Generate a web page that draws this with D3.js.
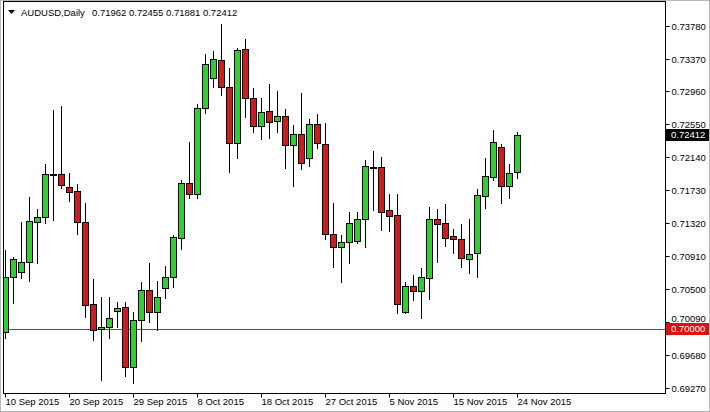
<!DOCTYPE html>
<html><head><meta charset="utf-8">
<script src="https://cdn.jsdelivr.net/npm/d3@7"></script>
<style>html,body{margin:0;padding:0;background:#fff;}svg{display:block;}</style>
</head><body><svg id="c" width="710" height="412"></svg>
<script>
const dates = ["2015-09-10","2015-09-11","2015-09-13","2015-09-14","2015-09-15","2015-09-16","2015-09-17","2015-09-18","2015-09-20","2015-09-21","2015-09-22","2015-09-23","2015-09-24","2015-09-25","2015-09-27","2015-09-28","2015-09-29","2015-09-30",
"2015-10-01","2015-10-02","2015-10-04","2015-10-05","2015-10-06","2015-10-07","2015-10-08","2015-10-09","2015-10-11","2015-10-12","2015-10-13","2015-10-14","2015-10-15","2015-10-16","2015-10-18","2015-10-19","2015-10-20","2015-10-21","2015-10-22","2015-10-23","2015-10-25","2015-10-26","2015-10-27","2015-10-28","2015-10-29","2015-10-30",
"2015-11-01","2015-11-02","2015-11-03","2015-11-04","2015-11-05","2015-11-06","2015-11-08","2015-11-09","2015-11-10","2015-11-11","2015-11-12","2015-11-13","2015-11-15","2015-11-16","2015-11-17","2015-11-18","2015-11-19","2015-11-20","2015-11-22","2015-11-23","2015-11-24"];
const open  = [0.69963,0.70648,0.70711,0.70835,0.71334,0.71396,0.71926,0.71932,0.71770,0.71720,0.71334,0.70312,0.70000,0.70025,0.70225,0.70274,0.69527,0.70112,0.70486,0.70212,0.70511,0.70648,0.71134,0.71820,0.71683,0.72754,0.73128,0.73353,0.73016,0.72318,0.73490,0.72879,0.72530,0.72717,0.72592,0.72655,0.72293,0.72430,0.72131,0.72555,0.72306,0.71184,0.71022,0.71084,0.71097,0.71371,0.72019,0.72019,0.71483,0.71421,0.70212,0.70536,0.70474,0.70636,0.71371,0.71321,0.71159,0.71122,0.70873,0.70947,0.71658,0.71894,0.72268,0.71782,0.71962];
const high  = [0.70985,0.70898,0.71334,0.71645,0.71496,0.72057,0.72729,0.72779,0.71944,0.71807,0.71570,0.70623,0.70399,0.70399,0.70337,0.70337,0.70212,0.70586,0.70823,0.70598,0.70785,0.71172,0.71857,0.72331,0.72804,0.73427,0.73465,0.73801,0.73253,0.73502,0.73614,0.73004,0.72879,0.73053,0.72966,0.72742,0.72543,0.72941,0.72617,0.72680,0.72567,0.71570,0.71172,0.71458,0.71458,0.72106,0.72218,0.72144,0.71683,0.71683,0.70586,0.70673,0.70760,0.71521,0.71496,0.71558,0.71246,0.71309,0.71371,0.71745,0.72131,0.72480,0.72306,0.72057,0.72455];
const low   = [0.69888,0.70324,0.70636,0.70598,0.70823,0.71321,0.71359,0.71757,0.71595,0.71184,0.70150,0.69863,0.69365,0.69888,0.70025,0.69415,0.69327,0.69851,0.70087,0.69988,0.70387,0.70524,0.70997,0.71633,0.71633,0.72692,0.73016,0.72916,0.71957,0.72131,0.72642,0.72455,0.72368,0.72380,0.72455,0.72007,0.71782,0.71994,0.72032,0.72256,0.71122,0.70773,0.70586,0.70823,0.71072,0.71022,0.71483,0.71234,0.71222,0.70200,0.70200,0.70362,0.70137,0.70374,0.70835,0.71035,0.70947,0.70773,0.70698,0.70648,0.71508,0.71857,0.71570,0.71633,0.71881];
const close = [0.70648,0.70873,0.70835,0.71346,0.71396,0.71932,0.71926,0.71795,0.71708,0.71334,0.70299,0.69988,0.70025,0.70137,0.70262,0.69527,0.70112,0.70486,0.70212,0.70399,0.70648,0.71147,0.71820,0.71683,0.72754,0.73303,0.73365,0.73016,0.72318,0.73477,0.72879,0.72530,0.72705,0.72580,0.72655,0.72293,0.72430,0.72069,0.72555,0.72318,0.71184,0.71022,0.71084,0.71321,0.71371,0.72032,0.72019,0.71458,0.71409,0.70312,0.70536,0.70474,0.70648,0.71371,0.71309,0.71134,0.71122,0.70885,0.70935,0.71670,0.71907,0.72331,0.71782,0.71944,0.72412];
const yTicks = [0.73780,0.73370,0.72960,0.72550,0.72140,0.71730,0.71320,0.70910,0.70500,0.70090,0.69680,0.69270];
const xTickDates = ["2015-09-10","2015-09-20","2015-09-29","2015-10-08","2015-10-18","2015-10-27","2015-11-05","2015-11-15","2015-11-24"];
const xTickLabels = ["10 Sep 2015","20 Sep 2015","29 Sep 2015","8 Oct 2015","18 Oct 2015","27 Oct 2015","5 Nov 2015","15 Nov 2015","24 Nov 2015"];
const symbol = "AUDUSD,Daily";
const lastBar = [0.71962,0.72455,0.71881,0.72412];
const lastPrice = 0.72412;
const levelPrice = 0.70000;

const FONT = "'Liberation Sans', Arial, sans-serif";
const svg = d3.select("#c");
const L = 3, R = 665, T = 1, B = 393;
const x = d3.scaleLinear().domain([0, dates.length - 1]).range([5, 517]);
const y = d3.scaleLinear().domain([0.69270, 0.73780]).range([387.6, 25.7]);

svg.append("rect").attr("width",710).attr("height",412).attr("fill","#fff");
svg.append("rect").attr("x",0.5).attr("y",0.5).attr("width",709).attr("height",411)
  .attr("fill","none").attr("stroke","#b8b8b8");

svg.append("defs").append("clipPath").attr("id","pc").append("rect")
  .attr("x",L+1).attr("y",T+1).attr("width",R-L-1).attr("height",B-T-1);

const plot = svg.append("g").attr("clip-path","url(#pc)");

// level line
const yl = Math.round(y(levelPrice)) + 0.5;
plot.append("line").attr("x1",L).attr("x2",R).attr("y1",yl).attr("y2",yl)
  .attr("stroke","#c81e1e").attr("stroke-width",1);

const data = dates.map((d,i)=>({i, o:open[i], h:high[i], l:low[i], c:close[i]}));
const g = plot.selectAll("g.cd").data(data).join("g").attr("class","cd");
g.append("rect")
  .attr("x", d => Math.round(x(d.i)))
  .attr("y", d => Math.round(y(d.h)))
  .attr("width",1)
  .attr("height", d => Math.round(y(d.l)) - Math.round(y(d.h)) + 1)
  .attr("fill","#000");
g.each(function(d){
  const cx = Math.round(x(d.i));
  const top = Math.round(y(Math.max(d.o,d.c)));
  const bot = Math.round(y(Math.min(d.o,d.c)));
  const s = d3.select(this);
  if (bot - top < 1) {
    s.append("rect").attr("x",cx-3).attr("y",top).attr("width",7).attr("height",2).attr("fill","#000");
  } else {
    s.append("rect").attr("x",cx-3+0.5).attr("y",top+0.5).attr("width",6).attr("height",bot-top)
      .attr("fill", d.c >= d.o ? "#32cd32" : "#c81e1e").attr("stroke","#000").attr("stroke-width",1);
  }
});

// frame
svg.append("rect").attr("x",L+0.5).attr("y",T+0.5).attr("width",R-L).attr("height",B-T)
  .attr("fill","none").attr("stroke","#000");

// right axis
const ya = svg.append("g").attr("transform",`translate(${R+0.5},0)`)
  .call(d3.axisRight(y).tickValues(yTicks).tickSize(4).tickFormat(d3.format(".5f")));
ya.select(".domain").remove();
ya.selectAll(".tick").attr("transform", d => `translate(0,${Math.round(y(d))+0.5})`);
ya.selectAll(".tick text").attr("x",6).attr("font-family",FONT).attr("font-size",9.5).attr("fill","#000");
// the label that sits just above the red level box is nudged up so both stay readable
ya.selectAll(".tick text").filter(d => Math.abs(y(d) - y(levelPrice)) < 12)
  .attr("dy", "-0.1em");

// bottom axis
const idx = xTickDates.map(d => dates.indexOf(d));
const xa = svg.append("g").attr("transform",`translate(0,${B+0.5})`)
  .call(d3.axisBottom(x).tickValues(idx).tickSize(4).tickFormat((d,k) => xTickLabels[k]));
xa.select(".domain").remove();
xa.selectAll(".tick").attr("transform", d => `translate(${Math.round(x(d))+0.5},0)`);
xa.selectAll(".tick text").attr("text-anchor","start").attr("x",0).attr("y",5)
  .attr("font-family",FONT).attr("font-size",9.5).attr("fill","#000");

// price boxes
function box(p, fill){
  const yy = Math.round(y(p));
  svg.append("rect").attr("x",R+1).attr("y",yy-6).attr("width",43).attr("height",12).attr("fill",fill);
  svg.append("text").attr("x",R+6).attr("y",yy).attr("dy","0.35em").attr("font-family",FONT)
    .attr("font-size",9.5).attr("fill","#fff").text(d3.format(".5f")(p));
}
box(lastPrice, "#000");
box(levelPrice, "#e01010");

// title
svg.append("path").attr("d","M8,10 L15,10 L11.5,14 Z").attr("fill","#000");
svg.append("text").attr("x",21).attr("y",16).attr("font-family",FONT).attr("font-size",9.5).attr("fill","#000").text(symbol);
svg.append("text").attr("x",92).attr("y",16).attr("font-family",FONT).attr("font-size",9.5).attr("fill","#000")
  .text(lastBar.map(d3.format(".5f")).join(" "));
</script></body></html>
